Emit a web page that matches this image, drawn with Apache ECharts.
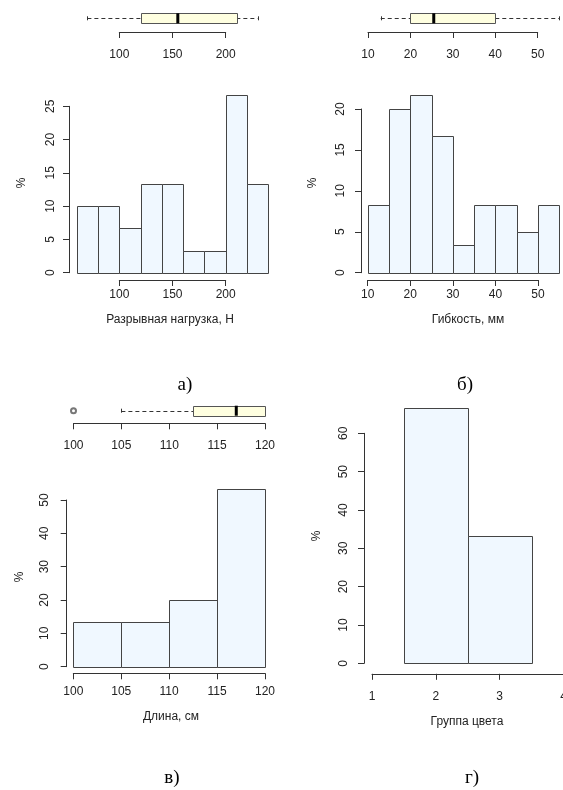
<!DOCTYPE html>
<html>
<head>
<meta charset="utf-8">
<script src="https://cdn.jsdelivr.net/npm/echarts@6/dist/echarts.min.js"></script>
<style>
html,body{margin:0;padding:0;background:#fff;}
#c{width:563px;height:790px;}
</style>
</head>
<body>
<div id="c"></div>
<script>
// ---------- DATA ----------
// а) Разрывная нагрузка, Н
const loadBreaks = [60, 80, 100, 120, 140, 160, 180, 200, 220, 240];
const loadPct = [10, 10, 6.67, 13.33, 13.33, 3.33, 3.33, 26.67, 13.33];
const loadBox = [70, 120, 155, 210, 230];          // min, Q1, median, Q3, max
const loadXTicks = [100, 150, 200];
const loadYTicks = [0, 5, 10, 15, 20, 25];

// б) Гибкость, мм
const flexBreaks = [10, 15, 20, 25, 30, 35, 40, 45, 50, 55];
const flexPct = [8.33, 20, 21.67, 16.67, 3.33, 8.33, 8.33, 5, 8.33];
const flexBox = [13, 20, 25.5, 40, 55];
const flexXTicks = [10, 20, 30, 40, 50];
const flexYTicks = [0, 5, 10, 15, 20];

// в) Длина, см
const lenBreaks = [100, 105, 110, 115, 120];
const lenPct = [13.33, 13.33, 20, 53.33];
const lenBox = [105, 112.5, 117, 120, 120];
const lenOutliers = [100];
const lenXTicks = [100, 105, 110, 115, 120];
const lenYTicks = [0, 10, 20, 30, 40, 50];

// г) Группа цвета
const colorBreaks = [1.5, 2.5, 3.5];
const colorPct = [66.67, 33.33];
const colorXTicks = [1, 2, 3, 4];
const colorYTicks = [0, 10, 20, 30, 40, 50, 60];

const xTitles = ['Разрывная нагрузка, Н', 'Гибкость, мм', 'Длина, см', 'Группа цвета'];
const captions = ['а)', 'б)', 'в)', 'г)'];
const yTitle = '%';

// ---------- STYLE / LAYOUT ----------
const SANS = 'Liberation Sans, Arial, sans-serif';
const SERIF = 'Liberation Serif, Times New Roman, serif';
const TXT = '#222';
const LINE = '#333';
const BAR_FILL = '#F0F8FF';
const BAR_STROKE = '#444';
const BOX_FILL = '#FFFFE0';
const BOX_STROKE = '#555';

const grids = [], xAxes = [], yAxes = [], series = [];

function step(t) { return t[1] - t[0]; }

function xAxisDef(gi, xt, xOff, labMargin) {
  return {
    gridIndex: gi, type: 'value', min: xt[0], max: xt[xt.length - 1], interval: step(xt),
    position: 'bottom', offset: xOff,
    axisLine: {show: true, onZero: false, lineStyle: {color: LINE, width: 1}},
    axisTick: {show: true, inside: false, length: 6, lineStyle: {color: LINE}},
    axisLabel: {show: true, color: TXT, fontSize: 12, fontFamily: SANS, margin: labMargin, hideOverlap: false},
    splitLine: {show: false}
  };
}

function addHist(rect, breaks, pct, xt, yt, xOff, yOff, xLabMargin, yLabMargin) {
  const gi = grids.length;
  grids.push({left: rect.left, top: rect.top, width: rect.width, height: rect.height,
    containLabel: false, outerBoundsMode: 'none'});
  xAxes.push(xAxisDef(gi, xt, xOff, xLabMargin));
  yAxes.push({
    gridIndex: gi, type: 'value', min: yt[0], max: yt[yt.length - 1], interval: step(yt),
    position: 'left', offset: yOff,
    axisLine: {show: true, onZero: false, lineStyle: {color: LINE, width: 1}},
    axisTick: {show: true, inside: false, length: 6, lineStyle: {color: LINE}},
    axisLabel: {show: true, color: TXT, fontSize: 12, fontFamily: SANS, rotate: 90, margin: yLabMargin},
    splitLine: {show: false}
  });
  const data = pct.map((p, i) => [breaks[i], breaks[i + 1], p]);
  series.push({
    type: 'custom', xAxisIndex: gi, yAxisIndex: gi, clip: false, silent: true,
    data: data, encode: {x: [0, 1], y: 2},
    renderItem: function (params, api) {
      const a = api.coord([api.value(0), 0]);
      const b = api.coord([api.value(1), api.value(2)]);
      const x0 = Math.round(a[0]) + 0.5, x1 = Math.round(b[0]) + 0.5;
      const y0 = Math.round(a[1]) + 0.5, y1 = Math.round(b[1]) + 0.5;
      return {type: 'rect', shape: {x: x0, y: y1, width: x1 - x0, height: y0 - y1},
        style: {fill: BAR_FILL, stroke: BAR_STROKE, lineWidth: 1}};
    }
  });
}

function addBox(rect, box, xt, xOff, labMargin, outliers) {
  const gi = grids.length;
  grids.push({left: rect.left, top: rect.top, width: rect.width, height: rect.height,
    containLabel: false, outerBoundsMode: 'none'});
  xAxes.push(xAxisDef(gi, xt, xOff, labMargin));
  yAxes.push({gridIndex: gi, type: 'value', min: 0, max: 1, show: false});
  series.push({
    type: 'custom', xAxisIndex: gi, yAxisIndex: gi, clip: false, silent: true,
    data: [box], encode: {x: [0, 1, 2, 3, 4]},
    renderItem: function (params, api) {
      const v = [0, 1, 2, 3, 4].map(i => api.value(i));
      const px = v.map(d => api.coord([d, 0.5])[0]);
      const yTop = api.coord([0, 1])[1], yBot = api.coord([0, 0])[1], yMid = api.coord([0, 0.5])[1];
      const ySt0 = api.coord([0, 0.7])[1], ySt1 = api.coord([0, 0.3])[1];
      const dash = {stroke: '#333', lineWidth: 1, lineDash: [4, 3]};
      const solid = {stroke: '#333', lineWidth: 1};
      const r = n => Math.round(n) + 0.5;
      return {type: 'group', children: [
        {type: 'line', shape: {x1: px[0], y1: r(yMid), x2: px[1], y2: r(yMid)}, style: dash},
        {type: 'line', shape: {x1: px[3], y1: r(yMid), x2: px[4], y2: r(yMid)}, style: dash},
        {type: 'line', shape: {x1: r(px[0]), y1: ySt0, x2: r(px[0]), y2: ySt1}, style: solid},
        {type: 'line', shape: {x1: r(px[4]), y1: ySt0, x2: r(px[4]), y2: ySt1}, style: solid},
        {type: 'rect', shape: {x: r(px[1]), y: r(yTop), width: Math.round(px[3] - px[1]), height: Math.round(yBot - yTop)},
          style: {fill: BOX_FILL, stroke: BOX_STROKE, lineWidth: 1}},
        {type: 'line', shape: {x1: px[2], y1: yTop, x2: px[2], y2: yBot}, style: {stroke: '#000', lineWidth: 3}}
      ]};
    }
  });
  if (outliers && outliers.length) {
    series.push({
      type: 'scatter', xAxisIndex: gi, yAxisIndex: gi, clip: false, silent: true,
      data: outliers.map(o => [o, 0.5]), symbol: 'emptyCircle', symbolSize: 5,
      itemStyle: {color: '#555', borderColor: '#555', borderWidth: 1}
    });
  }
}

// а)
addBox({left: 119.3, top: 13.3, width: 106.4, height: 10}, loadBox, loadXTicks, 8.7, 17);
addHist({left: 119.3, top: 106.3, width: 106.4, height: 166.4}, loadBreaks, loadPct, loadXTicks, loadYTicks, 7.3, 50.3, 8.5, 12);
// б)
addBox({left: 368, top: 13.3, width: 169.7, height: 10}, flexBox, flexXTicks, 8.7, 17);
addHist({left: 367.7, top: 109, width: 170.3, height: 163.7}, flexBreaks, flexPct, flexXTicks, flexYTicks, 7.3, 6.7, 8.5, 14);
// в)
addBox({left: 73.5, top: 405.7, width: 191.5, height: 10}, lenBox, lenXTicks, 7.6, 16, lenOutliers);
addHist({left: 73.3, top: 500, width: 191.7, height: 166.7}, lenBreaks, lenPct, lenXTicks, lenYTicks, 6.6, 6.6, 12, 16);
// г)
addHist({left: 372, top: 433.3, width: 191.5, height: 230}, colorBreaks, colorPct, colorXTicks, colorYTicks, 10.5, 8, 17, 14);

// text elements (axis titles, % labels, captions)
const graphic = [];
function txt(x, y, s, opt) {
  graphic.push(Object.assign({type: 'text', x: x, y: y, silent: true,
    style: Object.assign({text: s, fill: TXT, font: '12px ' + SANS, textAlign: 'center', textVerticalAlign: 'middle'}, opt && opt.style || {})},
    opt && opt.rotation !== undefined ? {rotation: opt.rotation} : {}));
}
txt(170, 320, xTitles[0]);
txt(468, 320, xTitles[1]);
txt(171, 717, xTitles[2]);
txt(467, 722, xTitles[3]);
txt(22, 183, yTitle, {rotation: Math.PI / 2});
txt(313, 183, yTitle, {rotation: Math.PI / 2});
txt(20, 577, yTitle, {rotation: Math.PI / 2});
txt(317, 536, yTitle, {rotation: Math.PI / 2});
txt(185, 385, captions[0], {style: {font: '19px ' + SERIF, fill: '#000'}});
txt(465, 385, captions[1], {style: {font: '19px ' + SERIF, fill: '#000'}});
txt(172, 778, captions[2], {style: {font: '19px ' + SERIF, fill: '#000'}});
txt(472, 778, captions[3], {style: {font: '19px ' + SERIF, fill: '#000'}});

const chart = echarts.init(document.getElementById('c'), null, {renderer: 'canvas'});
chart.setOption({
  animation: false,
  backgroundColor: '#fff',
  grid: grids, xAxis: xAxes, yAxis: yAxes, series: series,
  graphic: graphic
});
</script>
</body>
</html>
